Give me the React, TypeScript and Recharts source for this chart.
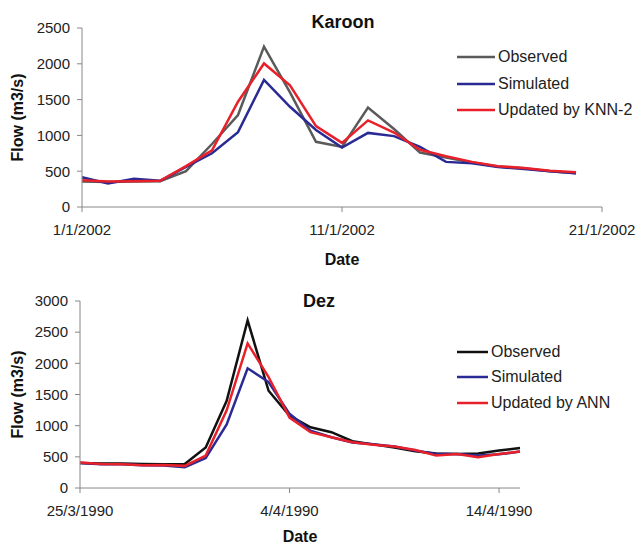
import { LineChart, Line, XAxis, YAxis, Legend } from 'recharts'

const FONT = "'Liberation Sans', Arial, sans-serif"

// Karoon, daily flows
const karoonDates = [
    '1/1/2002', '2/1/2002', '3/1/2002', '4/1/2002', '5/1/2002', '6/1/2002', '7/1/2002',
    '8/1/2002', '9/1/2002', '10/1/2002', '11/1/2002', '12/1/2002', '13/1/2002', '14/1/2002',
    '15/1/2002', '16/1/2002', '17/1/2002', '18/1/2002', '19/1/2002', '20/1/2002',
]
const karoonObserved = [355, 350, 355, 360, 500, 880, 1285, 2240, 1600, 910, 840, 1390, 1090, 760, 690, 620, 565, 540, 500, 470]
const karoonSimulated = [415, 330, 395, 365, 560, 750, 1045, 1775, 1400, 1075, 830, 1035, 990, 840, 630, 610, 560, 530, 500, 470]
const karoonUpdated = [375, 355, 360, 365, 570, 790, 1470, 2005, 1700, 1130, 895, 1210, 1040, 800, 710, 630, 570, 545, 505, 485]
const karoonTicks = [0, 10, 20]
const karoonTickLabels = ['1/1/2002', '11/1/2002', '21/1/2002']
const karoonYTicks = [0, 500, 1000, 1500, 2000, 2500]

// Dez, daily flows
const dezDates = [
    '25/3/1990', '26/3/1990', '27/3/1990', '28/3/1990', '29/3/1990', '30/3/1990', '31/3/1990',
    '1/4/1990', '2/4/1990', '3/4/1990', '4/4/1990', '5/4/1990', '6/4/1990', '7/4/1990',
    '8/4/1990', '9/4/1990', '10/4/1990', '11/4/1990', '12/4/1990', '13/4/1990', '14/4/1990', '15/4/1990',
]
const dezObserved = [400, 395, 395, 385, 380, 385, 650, 1400, 2690, 1560, 1160, 975, 895, 750, 700, 650, 590, 555, 545, 555, 600, 640]
const dezSimulated = [400, 380, 380, 365, 360, 335, 480, 1020, 1920, 1700, 1190, 920, 815, 730, 700, 665, 600, 545, 545, 520, 540, 585]
const dezUpdated = [410, 385, 380, 365, 370, 355, 520, 1245, 2320, 1780, 1130, 895, 815, 735, 695, 665, 610, 520, 545, 495, 545, 585]
const dezTicks = [0, 10, 20]
const dezTickLabels = ['25/3/1990', '4/4/1990', '14/4/1990']
const dezYTicks = [0, 500, 1000, 1500, 2000, 2500, 3000]

const karoonData = karoonDates.map((date, i) => ({
    date, day: i, observed: karoonObserved[i], simulated: karoonSimulated[i], updated: karoonUpdated[i],
}))
const dezData = dezDates.map((date, i) => ({
    date, day: i, observed: dezObserved[i], simulated: dezSimulated[i], updated: dezUpdated[i],
}))

function FlowChart({ title, titleX, titleTop, top, height, margin, xHeight, dateOffset, data, ticks, tickLabels, xMax, yTicks, obsColor, updatedName, legendTop, lineLen, rowHeight }: any) {
    const renderLegend = (props: any) => (
        <div style={{ fontFamily: FONT, fontSize: 16, color: '#222' }}>
            {(props.payload || []).map((p: any) => (
                <div key={p.value} style={{ display: 'flex', alignItems: 'center', height: rowHeight }}>
                    <svg width={lineLen} height={4} style={{ marginRight: 3 }}>
                        <line x1={0} y1={2} x2={lineLen} y2={2} stroke={p.color} strokeWidth={2.5} />
                    </svg>
                    <span style={{ whiteSpace: 'nowrap' }}>{p.value}</span>
                </div>
            ))}
        </div>
    )
    return (
        <div style={{ position: 'absolute', left: 0, top, width: 640, height }}>
            <div style={{
                position: 'absolute', left: titleX - 100, width: 200, top: titleTop, textAlign: 'center',
                fontFamily: FONT, fontWeight: 'bold', fontSize: 18, lineHeight: '18px', color: '#111',
            }}>{title}</div>
            <LineChart width={640} height={height} data={data} margin={margin}>
                <XAxis
                    dataKey="day"
                    type="number"
                    domain={[0, xMax]}
                    ticks={ticks}
                    tickFormatter={(v: number) => tickLabels[ticks.indexOf(v)]}
                    height={xHeight}
                    tickSize={5}
                    tickMargin={12}
                    stroke="#888"
                    tick={{ fill: '#222', fontSize: 15, fontFamily: FONT }}
                    label={{ value: 'Date', position: 'insideBottom', offset: dateOffset, style: { fontWeight: 'bold', fontSize: 16, fontFamily: FONT, fill: '#111' } }}
                />
                <YAxis
                    type="number"
                    domain={[0, yTicks[yTicks.length - 1]]}
                    ticks={yTicks}
                    width={margin.yWidth}
                    tickSize={5}
                    tickMargin={7}
                    stroke="#888"
                    tick={{ fill: '#222', fontSize: 15, fontFamily: FONT }}
                    label={{ value: 'Flow (m3/s)', angle: -90, position: 'insideLeft', offset: 17, style: { textAnchor: 'middle', fontWeight: 'bold', fontSize: 16, fontFamily: FONT, fill: '#111' } }}
                />
                <Legend
                    layout="vertical"
                    align="center"
                    verticalAlign="middle"
                    content={renderLegend}
                    wrapperStyle={{ left: 457, top: legendTop, width: 'auto' }}
                />
                <Line dataKey="observed" name="Observed" stroke={obsColor} strokeWidth={2.5} dot={false} isAnimationActive={false} />
                <Line dataKey="simulated" name="Simulated" stroke="#2a2a94" strokeWidth={2.5} dot={false} isAnimationActive={false} />
                <Line dataKey="updated" name={updatedName} stroke="#e8202a" strokeWidth={2.5} dot={false} isAnimationActive={false} />
            </LineChart>
        </div>
    )
}

export default function App() {
    return (
        <div style={{ position: 'absolute', left: 0, top: 0, width: 640, height: 546, background: '#fff' }}>
            <FlowChart
                title="Karoon" titleX={343} titleTop={13}
                top={0} height={270}
                margin={{ top: 28, right: 38, bottom: 0, left: 0, yWidth: 82 }}
                xHeight={63} dateOffset={5}
                data={karoonData} ticks={karoonTicks} tickLabels={karoonTickLabels} xMax={20}
                yTicks={karoonYTicks} obsColor="#5a5a5a" updatedName="Updated by KNN-2"
                legendTop={44} lineLen={38} rowHeight={26.5}
            />
            <FlowChart
                title="Dez" titleX={319} titleTop={22}
                top={270} height={276}
                margin={{ top: 31, right: 120, bottom: 0, left: 0, yWidth: 80 }}
                xHeight={58} dateOffset={4}
                data={dezData} ticks={dezTicks} tickLabels={dezTickLabels} xMax={21}
                yTicks={dezYTicks} obsColor="#111" updatedName="Updated by ANN"
                legendTop={69} lineLen={31} rowHeight={25.5}
            />
        </div>
    )
}
